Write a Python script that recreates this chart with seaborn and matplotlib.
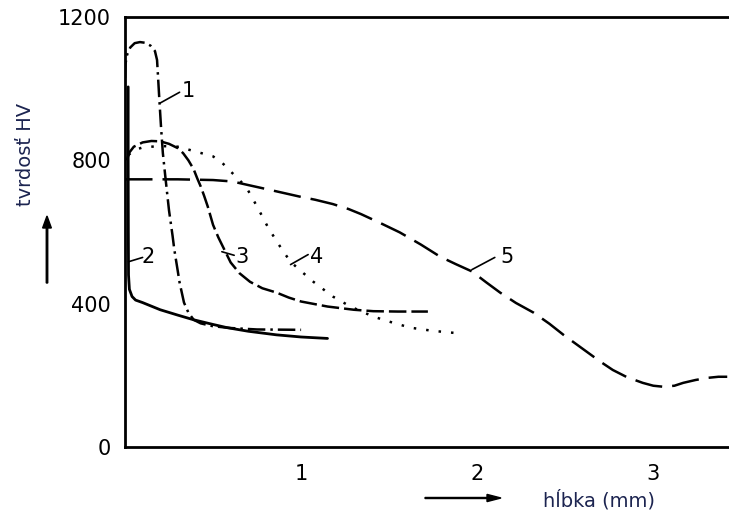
import numpy as np
import seaborn as sns
import matplotlib.pyplot as plt
import pandas as pd

# krivky tvrdosti (hlbka mm, tvrdost HV) odcitane z obrazka
k1_x = [0.0, 0.003, 0.012, 0.03, 0.055, 0.085, 0.115, 0.145, 0.17, 0.182, 0.188, 0.195, 0.205, 0.215, 0.23,
        0.25, 0.27, 0.28, 0.3, 0.31, 0.335, 0.36, 0.39, 0.43, 0.5, 0.6, 0.75, 1.0]
k1_y = [1030, 1070, 1095, 1115, 1127, 1130, 1128, 1120, 1105, 1080, 1030, 970, 890, 820, 750,
        660, 590, 551, 490, 459, 403, 375, 355, 345, 337, 332, 328, 327]

k2_x = [0.018, 0.018, 0.019, 0.02, 0.025, 0.04, 0.06, 0.1, 0.2, 0.3, 0.39, 0.5, 0.58, 0.7, 0.86, 1.0, 1.15]
k2_y = [1005, 800, 600, 480, 440, 420, 410, 403, 383, 368, 355, 342, 333, 323, 313, 307, 303]

k3_x = [0.01, 0.025, 0.05, 0.1, 0.15, 0.2, 0.25, 0.3, 0.33, 0.36, 0.39, 0.41, 0.43, 0.45, 0.47, 0.5,
        0.53, 0.56, 0.6, 0.65, 0.71, 0.78, 0.86, 0.93, 1.0, 1.15, 1.3, 1.41, 1.55, 1.72]
k3_y = [800, 822, 838, 850, 854, 853, 846, 834, 820, 800, 775, 750, 727, 700, 671, 620,
        585, 555, 515, 485, 461, 443, 431, 417, 406, 392, 383, 379, 378, 378]

k4_x = [0.02, 0.05, 0.1, 0.2, 0.3, 0.42, 0.5, 0.55, 0.6, 0.65, 0.69, 0.75, 0.81, 0.86, 0.9, 0.94, 0.99,
        1.07, 1.18, 1.28, 1.41, 1.5, 1.62, 1.75, 1.88]
k4_y = [815, 828, 836, 840, 838, 822, 811, 794, 769, 745, 724, 671, 615, 575, 545, 517, 495,
        461, 420, 392, 364, 350, 333, 324, 318]

k5_x = [0.0, 0.3, 0.5, 0.61, 0.7, 0.81, 0.9, 0.99, 1.08, 1.18, 1.27, 1.34, 1.45, 1.56, 1.68, 1.79, 1.88,
        1.97, 2.05, 2.13, 2.22, 2.32, 2.41, 2.49, 2.56, 2.63, 2.7, 2.77, 2.85, 2.94, 3.0, 3.06, 3.12,
        3.17, 3.24, 3.31, 3.37, 3.42]
k5_y = [747, 747, 745, 741, 731, 719, 709, 699, 690, 678, 664, 650, 625, 599, 565, 531, 510,
        490, 460, 431, 402, 375, 344, 313, 288, 263, 238, 215, 195, 179, 171, 168, 171,
        179, 187, 193, 196, 196]

cisla = ['1', '2', '3', '4', '5']
cisla_x = [0.36, 0.13, 0.665, 1.09, 2.17]
cisla_y = [993, 529, 529, 529, 529]

y_ticky = [0, 400, 800, 1200]
x_ticky = [1, 2, 3]

sns.set_style("white")
plt.rcParams['font.family'] = ['DejaVu Sans']

fig = plt.figure(figsize=(7.29, 5.16), dpi=100)
ax = fig.add_axes([125/729, 1-447/516, 1-125/729, 430/516])

styly = [(0, (7, 2, 1, 2)), '-', (0, (7, 2)), (0, (1, 4)), (0, (11, 4))]
sirky = [1.8, 2.0, 1.8, 1.8, 1.8]
krivky = [(k1_x, k1_y), (k2_x, k2_y), (k3_x, k3_y), (k4_x, k4_y), (k5_x, k5_y)]
for (kx, ky), st, w in zip(krivky, styly, sirky):
    sns.lineplot(x=kx, y=ky, ax=ax, sort=False, estimator=None, color='black', lw=w, linestyle=st)

# popisky kriviek s odkazovou ciarou
odkazy = [((0.2, 960), (0.31, 990)), ((0.02, 517), (0.1, 529)), ((0.55, 545), (0.62, 535)),
          ((0.94, 509), (1.04, 537)), ((1.97, 495), (2.1, 529))]
for t, tx, ty, (a, b) in zip(cisla, cisla_x, cisla_y, odkazy):
    ax.plot([a[0], b[0]], [a[1], b[1]], color='black', lw=1.2)
    ax.text(tx, ty, t, fontsize=15, ha='center', va='center', color='black')

ax.set_xlim(0, 3.43)
ax.set_ylim(0, 1200)
ax.set_xticks(x_ticky)
ax.set_yticks(y_ticky)
ax.set_yticks([200, 600, 1000], minor=True)
ax.tick_params(which='both', direction='in', length=8, width=2, labelsize=15, colors='black')
ax.tick_params(axis='x', pad=12)
ax.tick_params(axis='y', pad=10)
ax.spines['right'].set_visible(False)
for s in ['left', 'bottom', 'top']:
    ax.spines[s].set_linewidth(2)
    ax.spines[s].set_color('black')

# popisy osi so sipkami
fig.text(26/729, 1-154/516, 'tvrdosť HV', rotation=90, fontsize=14, color='#1c2450', ha='center', va='center')
fig.text(599/729, 1-500/516, 'hĺbka (mm)', fontsize=14, color='#1c2450', ha='center', va='center')
fig.patches.append(plt.matplotlib.patches.FancyArrow(47/729, 1-283/516, 0, 55/516, width=0.002,
                   head_width=0.012, head_length=12/516, color='black', transform=fig.transFigure))
fig.patches.append(plt.matplotlib.patches.FancyArrow(425/729, 1-498/516, 62/729, 0, width=0.002,
                   head_width=0.014, head_length=14/729, color='black', transform=fig.transFigure))

plt.savefig('out.png', dpi=100)
